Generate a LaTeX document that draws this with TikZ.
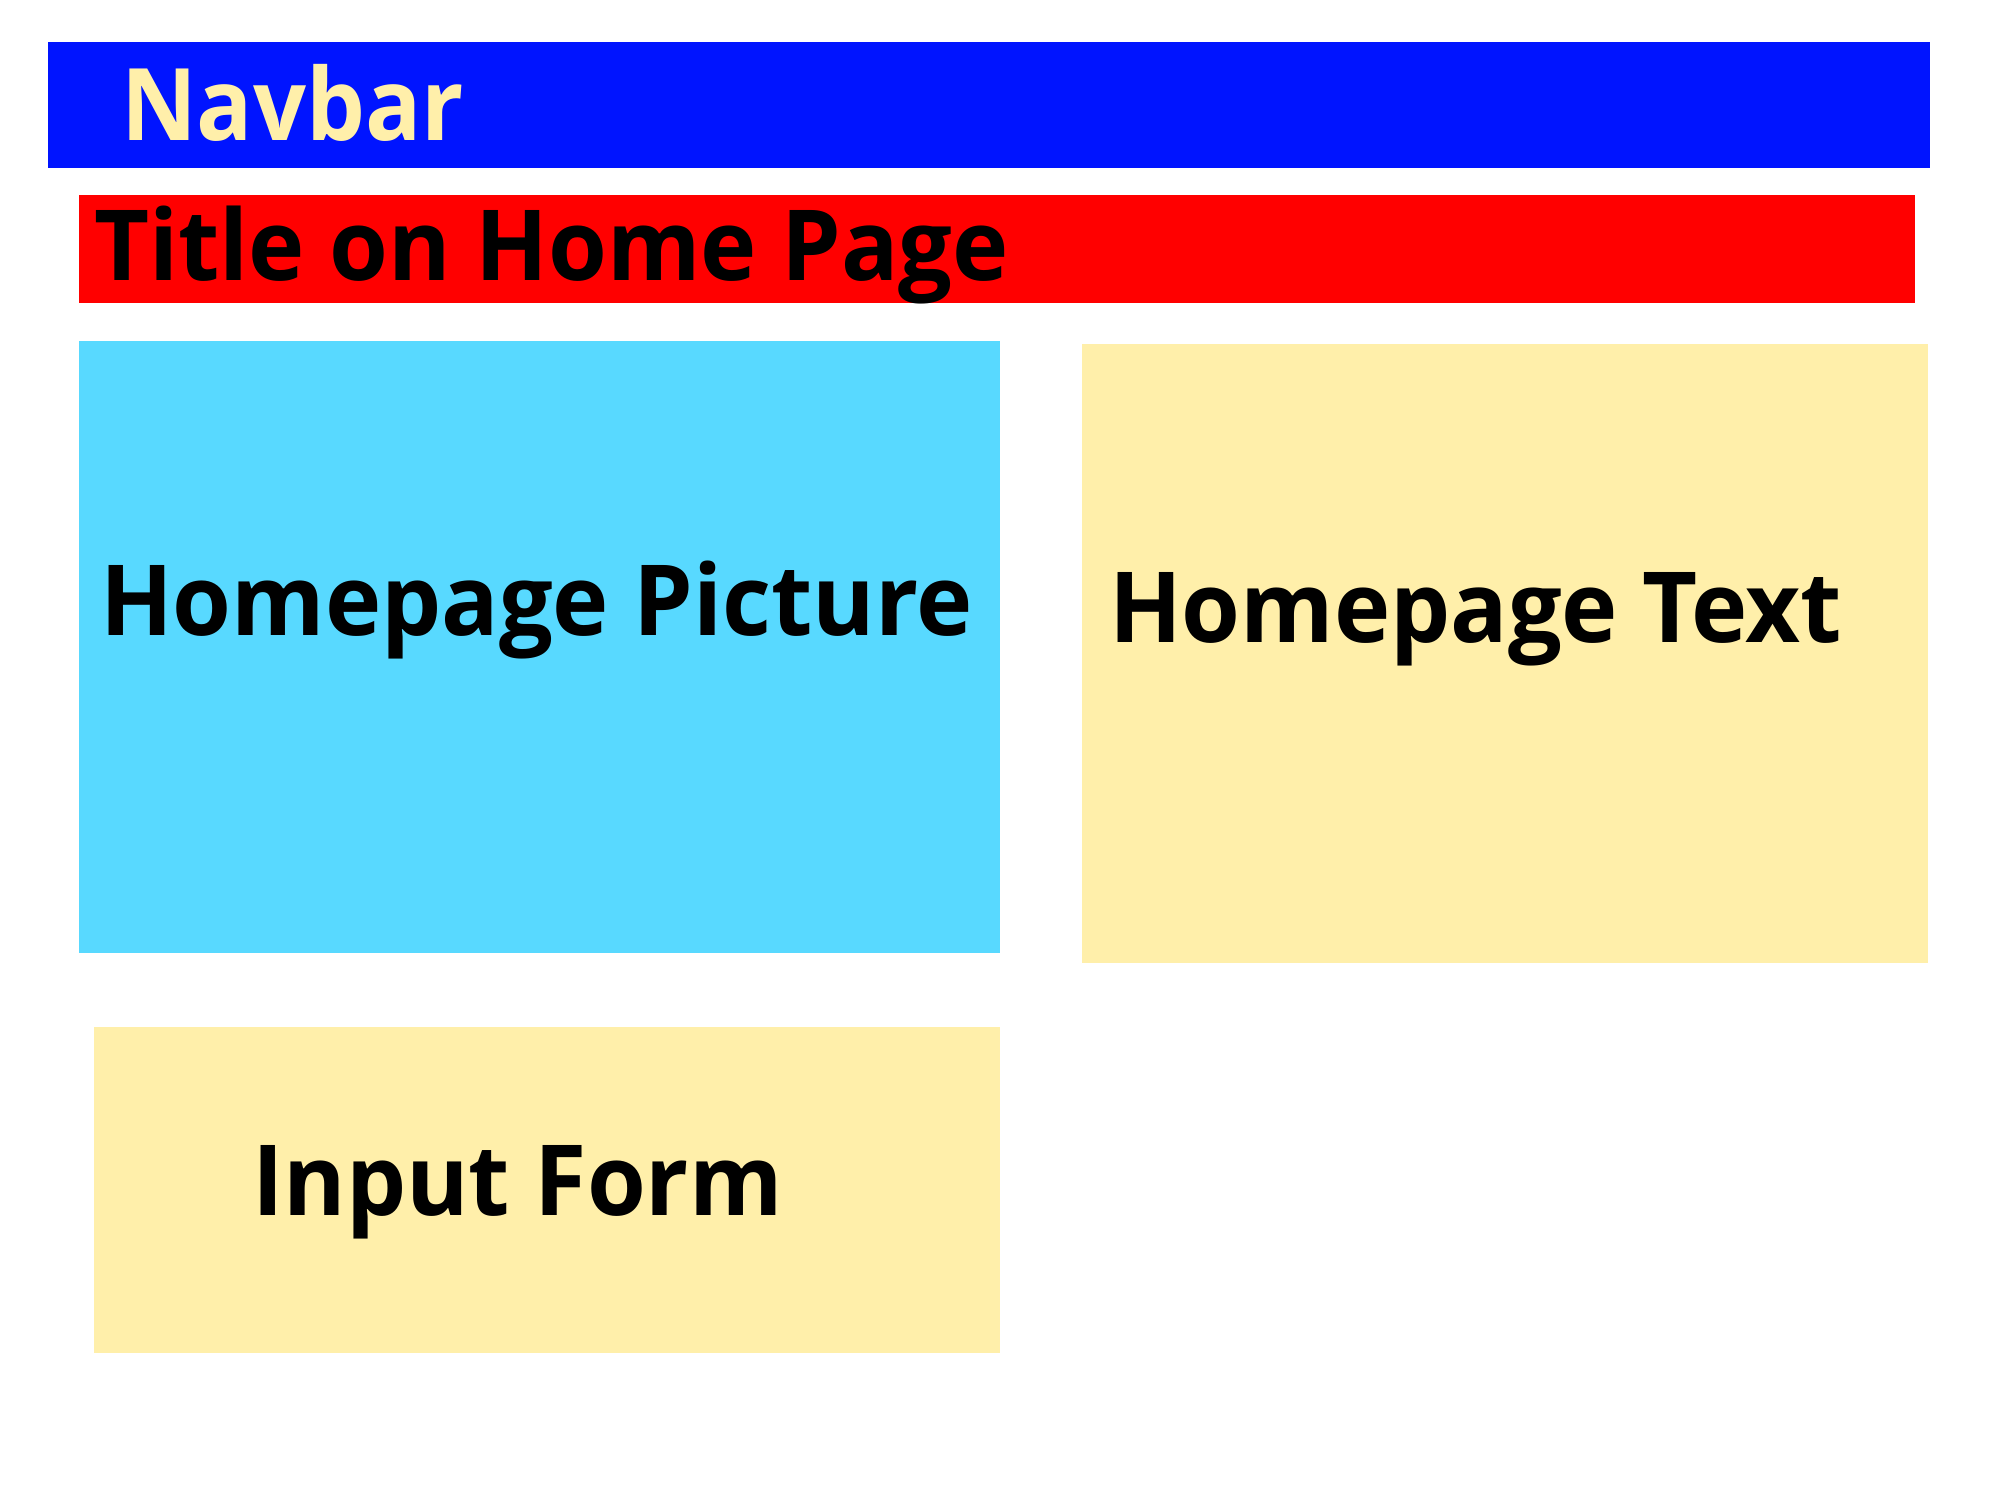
\documentclass[tikz,border=0pt]{standalone}
\usepackage{fontspec}
\setmainfont{Open Sans}[BoldFont={* Bold}]
\newfontfamily\capfont{Open Sans}[BoldFont={* Bold},FakeStretch=0.97]
\newfontfamily\navfont{Open Sans}[BoldFont={* Bold},FakeStretch=0.93]
\definecolor{navblue}{RGB}{0,20,255}
\definecolor{titlered}{RGB}{255,0,0}
\definecolor{piccyan}{RGB}{88,217,255}
\definecolor{paleyellow}{RGB}{255,239,170}
\begin{document}
\begin{tikzpicture}[x=0.01cm,y=-0.01cm,
  panel/.style={draw=none,inner sep=0,outer sep=0,anchor=north west},
  caption/.style={inner sep=0,outer sep=0,anchor=base west,font=\capfont\bfseries\fontsize{27.9}{30}\selectfont},
  navcaption/.style={inner sep=0,outer sep=0,anchor=base west,font=\navfont\bfseries\fontsize{28.5}{31}\selectfont,text=paleyellow}]
  \useasboundingbox[fill=white] (0,0) rectangle (2000,1500);
  % page regions
  \node[panel,fill=navblue,minimum width=1882*0.01cm,minimum height=126*0.01cm] (navbar) at (48,42) {};
  \node[panel,fill=titlered,minimum width=1836*0.01cm,minimum height=108*0.01cm] (title) at (79,195) {};
  \node[panel,fill=piccyan,minimum width=921*0.01cm,minimum height=612*0.01cm] (picture) at (79,341) {};
  \node[panel,fill=paleyellow,minimum width=846*0.01cm,minimum height=619*0.01cm] (textbox) at (1082,344) {};
  \node[panel,fill=paleyellow,minimum width=906*0.01cm,minimum height=326*0.01cm] (form) at (94,1027) {};
  % labels
  \node[navcaption] (navlabel) at (121,140) {Navbar};
  \node[caption] (titlelabel) at (94,280) {Title on Home Page};
  \node[caption] (piclabel) at (100,635) {Homepage Picture};
  \node[caption] (textlabel) at (1109,642) {Homepage Text};
  \node[caption] (formlabel) at (252,1215) {Input Form};
\end{tikzpicture}
\end{document}
